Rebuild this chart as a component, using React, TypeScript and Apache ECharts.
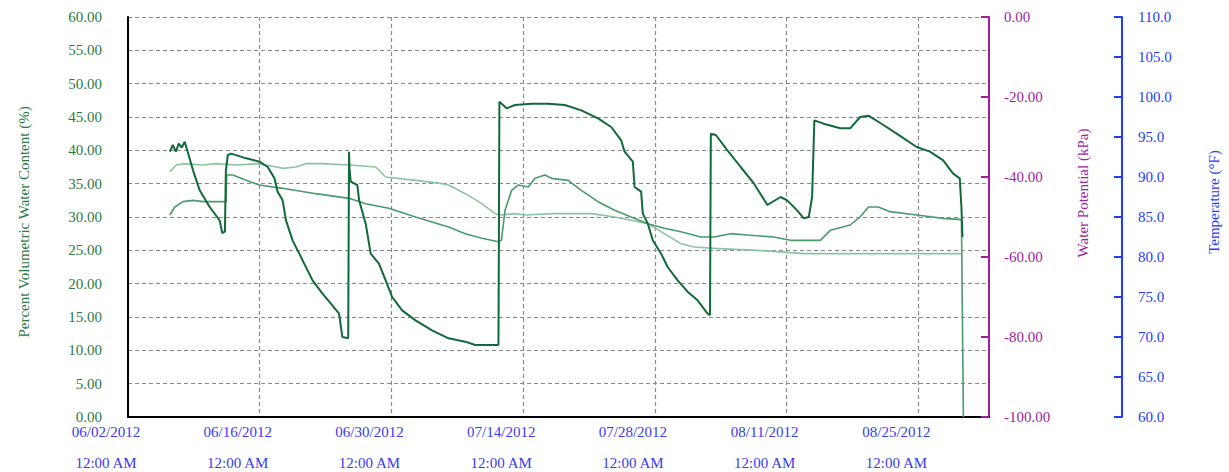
import React, { useEffect, useRef } from "react";
import * as echarts from "echarts";

// x values: days since 06/02/2012 12:00 AM
const START_UTC = Date.UTC(2012, 5, 2);
const X_MIN_DAYS = 0;
const X_MAX_DAYS = 91.5;
const X_TICK_DAYS = 14;

const VWC_MIN = 0;
const VWC_MAX = 60;
const VWC_STEP = 5;
const WP_MIN = -100;
const WP_MAX = 0;
const WP_STEP = 20;
const TEMP_MIN = 60;
const TEMP_MAX = 110;
const TEMP_STEP = 5;

const sensorDark: [number, number][] = [
  [4.44, 39.8], [4.76, 40.8], [5.08, 39.8], [5.4, 41.0], [5.71, 40.4], [6.03, 41.3],
  [6.91, 37.0], [7.62, 34.0], [8.68, 31.5], [9.74, 29.5], [10.02, 27.6], [10.3, 27.8],
  [10.4, 37.0], [10.61, 39.3], [10.97, 39.5], [12.56, 38.8], [13.97, 38.3], [14.85, 37.5],
  [15.56, 35.8], [15.9, 33.8], [16.43, 32.5], [16.79, 29.5], [17.49, 26.5], [18.2, 24.5],
  [19.61, 20.5], [20.67, 18.5], [21.56, 17.0], [22.43, 15.5], [22.78, 12.0], [23.4, 11.8],
  [23.49, 39.8], [23.54, 37.3], [23.67, 35.3], [24.37, 34.8], [24.56, 32.5], [25.26, 29.0],
  [25.79, 24.5], [26.67, 23.0], [27.38, 20.5], [28.07, 18.0], [29.13, 16.0], [30.55, 14.5],
  [32.31, 13.0], [34.07, 11.8], [35.84, 11.3], [36.9, 10.8], [39.37, 10.8],
  [39.47, 47.3], [40.24, 46.3], [41.13, 46.8], [42.89, 47.0], [44.66, 47.0], [46.42, 46.8],
  [48.18, 46.0], [49.95, 44.8], [51.35, 43.5], [52.41, 41.5], [52.77, 39.8], [53.65, 38.3],
  [53.83, 34.5], [54.53, 33.8], [54.71, 30.5], [55.24, 29.0], [55.77, 26.5], [56.65, 24.5],
  [57.35, 22.5], [58.41, 20.5], [59.47, 18.8], [60.53, 17.5], [61.59, 15.5], [61.85, 15.3],
  [61.94, 42.5], [62.47, 42.3], [63.7, 40.0], [65.11, 37.5], [66.53, 35.0], [67.94, 31.8],
  [69.35, 33.0], [70.05, 32.5], [71.11, 31.0], [71.82, 29.8], [72.35, 30.0], [72.7, 33.0],
  [72.94, 44.5], [73.93, 44.0], [75.69, 43.3], [76.75, 43.3], [77.8, 45.0], [78.69, 45.2],
  [80.28, 43.8], [81.69, 42.5], [83.81, 40.5], [85.22, 39.8], [86.63, 38.5], [87.69, 36.5],
  [88.39, 35.8], [88.57, 31.5], [88.68, 27.0],
];

const sensorMedium: [number, number][] = [
  [4.44, 30.3], [4.97, 31.5], [5.85, 32.3], [6.91, 32.5], [7.97, 32.3], [10.08, 32.3],
  [10.42, 32.3], [10.48, 36.3], [11.14, 36.3], [12.56, 35.5], [13.97, 34.8], [16.43, 34.3],
  [19.97, 33.5], [23.49, 32.8], [25.26, 32.0], [27.72, 31.3], [30.55, 30.0], [34.07, 28.5],
  [35.84, 27.5], [37.6, 26.8], [39.37, 26.3], [39.68, 26.5], [40.07, 31.0], [40.77, 34.0],
  [41.48, 34.8], [42.54, 34.5], [43.25, 35.8], [44.3, 36.3], [45.01, 35.8], [46.77, 35.5],
  [48.18, 34.0], [49.95, 32.3], [51.71, 31.0], [53.47, 30.0], [55.24, 29.0], [57.0, 28.3],
  [58.76, 27.8], [60.88, 27.0], [62.29, 27.0], [64.05, 27.5], [65.82, 27.3], [68.64, 27.0],
  [70.4, 26.5], [73.58, 26.5], [74.63, 28.0], [76.75, 28.8], [77.8, 30.0], [78.69, 31.5],
  [79.75, 31.5], [80.98, 30.8], [83.81, 30.3], [86.63, 29.8], [88.57, 29.6], [88.78, 0.0],
];

const sensorLight: [number, number][] = [
  [4.44, 36.8], [5.15, 37.8], [5.85, 38.0], [7.97, 37.8], [9.39, 38.0], [11.5, 37.8],
  [13.97, 38.0], [16.43, 37.3], [17.85, 37.5], [18.91, 38.0], [20.67, 38.0], [23.49, 37.8],
  [26.32, 37.5], [27.38, 36.0], [30.55, 35.5], [33.42, 35.0], [34.07, 34.8], [35.84, 33.5],
  [37.6, 32.0], [39.01, 30.5], [39.71, 30.3], [41.13, 30.5], [42.18, 30.3], [45.36, 30.5],
  [49.24, 30.5], [51.71, 30.0], [53.47, 29.5], [55.24, 29.0], [57.0, 27.5], [58.76, 26.0],
  [60.18, 25.5], [62.29, 25.3], [66.88, 25.0], [71.82, 24.5], [88.57, 24.5],
];

const FONT = "Liberation Serif";
const GREEN_TEXT = "#2a7a47";
const PURPLE = "#a01ea0";
const BLUE = "#1f3cff";
const XLABEL = "#3a3af0";

function pad2(n: number) {
  return n < 10 ? "0" + n : String(n);
}

function dayLabel(d: number) {
  const t = new Date(START_UTC + d * 86400000);
  return `${pad2(t.getUTCMonth() + 1)}/${pad2(t.getUTCDate())}/${t.getUTCFullYear()}\n\n12:00 AM`;
}

export default function App() {
  const ref = useRef<HTMLDivElement>(null);
  useEffect(() => {
    if (!ref.current) return;
    const chart = echarts.init(ref.current, undefined, { renderer: "svg" });
    const dashed = { color: "#8a8a8a", type: [4, 3] as any, width: 1.2 };
    chart.setOption({
      animation: false,
      backgroundColor: "#ffffff",
      grid: { left: 128, right: 236, top: 17, bottom: 55, containLabel: false },
      xAxis: {
        type: "value",
        min: X_MIN_DAYS,
        max: X_MAX_DAYS,
        interval: X_TICK_DAYS,
        axisLine: { show: true, onZero: false, lineStyle: { color: "#000", width: 2 } },
        axisTick: { show: false },
        splitLine: { show: true, showMaxLine: false, lineStyle: dashed },
        axisLabel: {
          color: XLABEL,
          fontFamily: FONT,
          fontSize: 15,
          lineHeight: 15.5,
          margin: 7,
          padding: [0, 44, 0, 0],
          showMaxLabel: false,
          formatter: (v: number) => (v % X_TICK_DAYS === 0 ? dayLabel(v) : ""),
        },
      },
      yAxis: [
        {
          type: "value",
          position: "left",
          min: VWC_MIN,
          max: VWC_MAX,
          interval: VWC_STEP,
          axisLine: { show: true, lineStyle: { color: "#000", width: 2 } },
          axisTick: { show: false },
          splitLine: { show: true, lineStyle: dashed },
          axisLabel: {
            color: GREEN_TEXT,
            fontFamily: FONT,
            fontSize: 15,
            margin: 26,
            formatter: (v: number) => v.toFixed(2),
          },
          name: "Percent Volumetric Water Content (%)",
          nameLocation: "middle",
          nameRotate: 90,
          nameGap: 97,
          nameTextStyle: { color: GREEN_TEXT, fontFamily: FONT, fontSize: 15, padding: [0, 10, 0, 0] },
        },
        {
          type: "value",
          position: "right",
          offset: 0,
          min: WP_MIN,
          max: WP_MAX,
          interval: WP_STEP,
          axisLine: { show: true, lineStyle: { color: PURPLE, width: 2 } },
          axisTick: { show: true, inside: true, length: 8, lineStyle: { color: PURPLE, width: 2 } },
          splitLine: { show: false },
          axisLabel: {
            color: PURPLE,
            fontFamily: FONT,
            fontSize: 15,
            margin: 15,
            formatter: (v: number) => v.toFixed(2),
          },
          name: "Water Potential (kPa)",
          nameLocation: "middle",
          nameRotate: 90,
          nameGap: 86,
          nameTextStyle: { color: PURPLE, fontFamily: FONT, fontSize: 15, padding: [0, 0, 0, 48] },
        },
        {
          type: "value",
          position: "right",
          offset: 133,
          min: TEMP_MIN,
          max: TEMP_MAX,
          interval: TEMP_STEP,
          axisLine: { show: true, lineStyle: { color: BLUE, width: 2 } },
          axisTick: { show: true, inside: true, length: 8, lineStyle: { color: BLUE, width: 2 } },
          splitLine: { show: false },
          axisLabel: {
            color: BLUE,
            fontFamily: FONT,
            fontSize: 15,
            margin: 16,
            formatter: (v: number) => v.toFixed(1),
          },
          name: "Temperature (°F)",
          nameLocation: "middle",
          nameRotate: 90,
          nameGap: 84,
          nameTextStyle: { color: BLUE, fontFamily: FONT, fontSize: 15, padding: [0, 0, 0, 30] },
        },
      ],
      series: [
        {
          name: "VWC Sensor 3",
          type: "line",
          yAxisIndex: 0,
          data: sensorLight,
          showSymbol: false,
          lineStyle: { color: "#8cc49f", width: 1.6 },
          z: 2,
        },
        {
          name: "VWC Sensor 2",
          type: "line",
          yAxisIndex: 0,
          data: sensorMedium,
          showSymbol: false,
          lineStyle: { color: "#4b9a6b", width: 1.6 },
          z: 3,
        },
        {
          name: "VWC Sensor 1",
          type: "line",
          yAxisIndex: 0,
          data: sensorDark,
          showSymbol: false,
          lineStyle: { color: "#12693a", width: 2 },
          z: 4,
        },
      ],
    });
    return () => chart.dispose();
  }, []);
  return (
    <div
      ref={ref}
      style={{ position: "fixed", left: 0, top: 0, width: 1229, height: 472, background: "#fff" }}
    />
  );
}
